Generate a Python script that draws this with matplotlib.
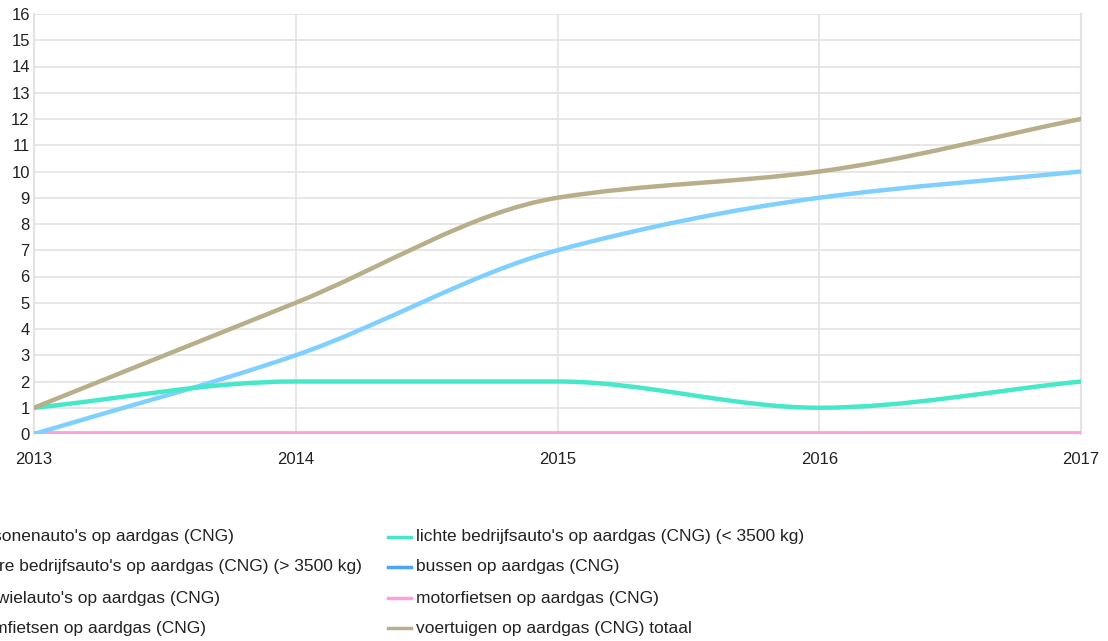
import numpy as np
import matplotlib
matplotlib.use('Agg')
import matplotlib.pyplot as plt
from matplotlib.path import Path
from matplotlib.patches import PathPatch
from matplotlib.lines import Line2D

plt.rcParams['font.family'] = ['Liberation Sans', 'DejaVu Sans']

years = [2013, 2014, 2015, 2016, 2017]

personenautos = [0, 0, 0, 0, 0]
lichte_bedrijfsautos = [1, 2, 2, 1, 2]
zware_bedrijfsautos = [0, 3, 7, 9, 10]
bussen = [0, 0, 0, 0, 0]
driewielautos = [0, 0, 0, 0, 0]
motorfietsen = [0, 0, 0, 0, 0]
bromfietsen = [0, 0, 0, 0, 0]
totaal = [1, 5, 9, 10, 12]

labels_left = ["personenauto's op aardgas (CNG)",
               "zware bedrijfsauto's op aardgas (CNG) (> 3500 kg)",
               "driewielauto's op aardgas (CNG)",
               "bromfietsen op aardgas (CNG)"]
labels_right = ["lichte bedrijfsauto's op aardgas (CNG) (< 3500 kg)",
                "bussen op aardgas (CNG)",
                "motorfietsen op aardgas (CNG)",
                "voertuigen op aardgas (CNG) totaal"]

colors_left = ['#f2b48c', '#80d0ff', '#c9a0e8', '#e8c07a']
colors_right = ['#45e8c8', '#4da3ff', '#ff9ee0', '#b8af8a']


def smooth_path(x, y):
    # monotone cubic curve through the points, built as bezier segments
    x = np.asarray(x, float)
    y = np.asarray(y, float)
    h = np.diff(x)
    d = np.diff(y) / h
    m = np.zeros_like(y)
    m[0], m[-1] = d[0], d[-1]
    for i in range(1, len(y) - 1):
        if d[i - 1] * d[i] > 0:
            m[i] = 2 * d[i - 1] * d[i] / (d[i - 1] + d[i])
    verts = [(x[0], y[0])]
    codes = [Path.MOVETO]
    for i in range(len(x) - 1):
        verts += [(x[i] + h[i] / 3, y[i] + m[i] * h[i] / 3),
                  (x[i + 1] - h[i] / 3, y[i + 1] - m[i + 1] * h[i] / 3),
                  (x[i + 1], y[i + 1])]
        codes += [Path.CURVE4] * 3
    return Path(verts, codes)


fig = plt.figure(figsize=(11.08, 6.41), dpi=100)
ax = fig.add_axes([34 / 1108, 1 - 434 / 641, (1081 - 34) / 1108, 420 / 641])

series = [
    (personenautos, colors_left[0]),
    (driewielautos, colors_left[2]),
    (bromfietsen, colors_left[3]),
    (bussen, colors_right[1]),
    (motorfietsen, colors_right[2]),
    (zware_bedrijfsautos, colors_left[1]),
    (lichte_bedrijfsautos, colors_right[0]),
    (totaal, colors_right[3]),
]
for vals, c in series:
    ax.add_patch(PathPatch(smooth_path(years, vals), facecolor='none',
                           edgecolor=c, lw=3.2, capstyle='round', zorder=3))

ax.set_xlim(2013, 2017)
ax.set_ylim(0, 16)
ax.set_yticks(range(0, 17))
ax.set_xticks(years)
ax.grid(True, color='#e3e3e3', lw=1.2)
ax.set_axisbelow(True)
for side in ['top', 'bottom']:
    ax.spines[side].set_visible(False)
for side in ['left', 'right']:
    ax.spines[side].set_color('#e3e3e3')
    ax.spines[side].set_linewidth(1.5)
ax.tick_params(length=0, labelsize=12, colors='#222222')
ax.tick_params(axis='y', pad=3)
ax.tick_params(axis='x', pad=13)
ax.set_xticklabels([str(y) for y in years])

# legend in two columns below the plot
row_y = [537, 567, 598, 628]
for col_x, labels, colors in [(-32, labels_left, colors_left),
                              (416, labels_right, colors_right)]:
    for yy, lab, c in zip(row_y, labels, colors):
        fy = 1 - yy / 641
        fig.add_artist(Line2D([(col_x - 28) / 1108, (col_x - 5) / 1108], [fy, fy],
                              color=c, lw=2.5, transform=fig.transFigure))
        fig.text(col_x / 1108, fy, lab, ha='left', va='center',
                 fontsize=12.5, color='#222222')

fig.savefig('out.png', dpi=100)
